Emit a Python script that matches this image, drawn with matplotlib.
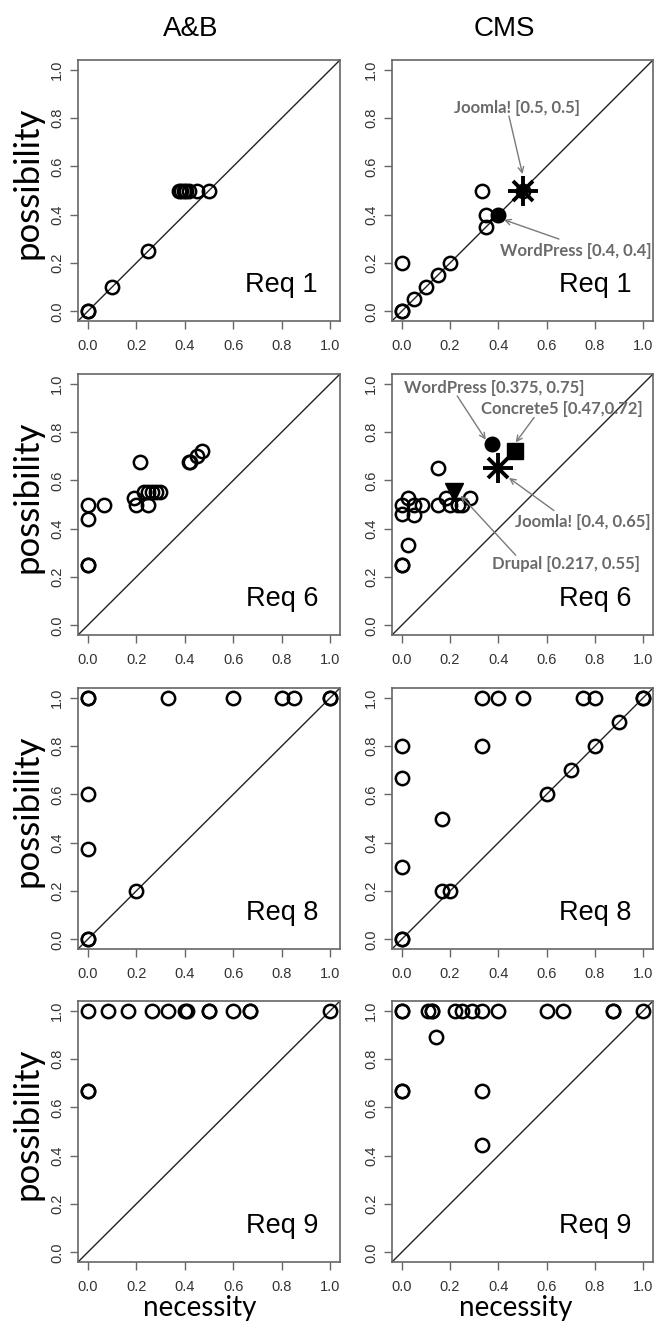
import matplotlib
matplotlib.use('Agg')
import matplotlib.pyplot as plt

# ---------------- data ----------------
col_titles = ['A&B', 'CMS']
req_labels = ['Req 1', 'Req 6', 'Req 8', 'Req 9']
tick_vals = [0.0, 0.2, 0.4, 0.6, 0.8, 1.0]
tick_labels = ['0.0', '0.2', '0.4', '0.6', '0.8', '1.0']

ab_req1_x = [0, 0, 0.1, 0.25, 0.375, 0.385, 0.395, 0.405, 0.417, 0.45, 0.5]
ab_req1_y = [0, 0, 0.1, 0.25, 0.5, 0.5, 0.5, 0.5, 0.5, 0.5, 0.5]

cms_req1_x = [0, 0, 0, 0.05, 0.1, 0.15, 0.2, 0.333, 0.35, 0.35, 0.5]
cms_req1_y = [0, 0, 0.2, 0.05, 0.1, 0.15, 0.2, 0.5, 0.4, 0.35, 0.5]

ab_req6_x = [0, 0, 0, 0, 0.067, 0.19, 0.2, 0.217, 0.25, 0.233, 0.25, 0.267, 0.283, 0.3,
             0.417, 0.42, 0.45, 0.47]
ab_req6_y = [0.25, 0.25, 0.44, 0.5, 0.5, 0.525, 0.5, 0.675, 0.5, 0.55, 0.55, 0.55, 0.55, 0.55,
             0.675, 0.675, 0.7, 0.72]

cms_req6_x = [0, 0, 0.025, 0, 0.025, 0.05, 0, 0.05, 0.083, 0.15, 0.15, 0.183, 0.2, 0.233, 0.25, 0.283]
cms_req6_y = [0.25, 0.25, 0.333, 0.5, 0.525, 0.5, 0.46, 0.455, 0.5, 0.65, 0.5, 0.525, 0.5, 0.5, 0.5, 0.525]

ab_req8_x = [0, 0, 0, 0, 0, 0, 0.2, 0.333, 0.6, 0.8, 0.85, 1, 1]
ab_req8_y = [1, 1, 0.6, 0.375, 0, 0, 0.2, 1, 1, 1, 1, 1, 1]

cms_req8_x = [0, 0, 0, 0, 0, 0.167, 0.167, 0.2, 0.333, 0.333, 0.4, 0.5, 0.6, 0.7, 0.75, 0.8, 0.8, 0.9, 1, 1]
cms_req8_y = [0, 0, 0.3, 0.667, 0.8, 0.5, 0.2, 0.2, 0.8, 1, 1, 1, 0.6, 0.7, 1, 1, 0.8, 0.9, 1, 1]

ab_req9_x = [0, 0.083, 0.167, 0.267, 0.333, 0.4, 0.41, 0.5, 0.5, 0.6, 0.667, 0.667, 1, 0, 0]
ab_req9_y = [1, 1, 1, 1, 1, 1, 1, 1, 1, 1, 1, 1, 1, 0.667, 0.667]

cms_req9_x = [0, 0, 0.111, 0.125, 0.125, 0.222, 0.25, 0.292, 0.333, 0.4, 0.6, 0.667, 0.875, 0.875, 1,
              0.143, 0, 0, 0.333, 0.333]
cms_req9_y = [1, 1, 1, 1, 1, 1, 1, 1, 1, 1, 1, 1, 1, 1, 1,
              0.889, 0.667, 0.667, 0.667, 0.444]

# highlighted CMS systems: (necessity, possibility)
req1_wordpress = (0.4, 0.4)
req1_joomla = (0.5, 0.5)
req6_wordpress = (0.375, 0.75)
req6_concrete5 = (0.47, 0.72)
req6_joomla = (0.4, 0.65)
req6_drupal = (0.217, 0.55)

panels = [
    [(ab_req1_x, ab_req1_y), (cms_req1_x, cms_req1_y)],
    [(ab_req6_x, ab_req6_y), (cms_req6_x, cms_req6_y)],
    [(ab_req8_x, ab_req8_y), (cms_req8_x, cms_req8_y)],
    [(ab_req9_x, ab_req9_y), (cms_req9_x, cms_req9_y)],
]

# ---------------- layout ----------------
W, H = 664, 1323
fig = plt.figure(figsize=(W / 100, H / 100), dpi=100)
fig.patch.set_facecolor('white')

col_left = [78, 392]
col_w = [262, 261]
row_top = [60, 374, 688, 1001]
row_h = 261

SPINE = '#666666'
TICKLBL = '#333333'
ANN = '#6a6a6a'
ARR = '#7a7a7a'


def add_ax(c, r):
    l = col_left[c] / W
    b = 1 - (row_top[r] + row_h) / H
    return fig.add_axes([l, b, col_w[c] / W, row_h / H])


def style(ax):
    ax.set_xlim(-0.04, 1.04)
    ax.set_ylim(-0.04, 1.04)
    ax.set_xticks(tick_vals)
    ax.set_xticklabels(tick_labels, family='Liberation Sans')
    ax.set_yticks(tick_vals)
    ax.set_yticklabels(tick_labels, family='Liberation Sans', rotation=90, va='center')
    ax.tick_params(direction='out', length=6, width=1.0, color=SPINE,
                   labelsize=10.5, labelcolor=TICKLBL)
    ax.tick_params(axis='x', pad=7)
    ax.tick_params(axis='y', pad=4)
    for s in ax.spines.values():
        s.set_color(SPINE)
        s.set_linewidth(1.2)
    ax.axline((0, 0), (1, 1), color='#222222', lw=1.0, zorder=1)


def pts(ax, x, y):
    ax.plot(x, y, 'o', mfc='none', mec='black', ms=9.6, mew=1.8, ls='none', zorder=3)


def asterisk(ax, p):
    ax.plot([p[0]], [p[1]], '+', color='black', ms=21, mew=2.8, zorder=5)
    ax.plot([p[0]], [p[1]], 'x', color='black', ms=15, mew=2.8, zorder=5)


def note(ax, text, tpos, start, end):
    ax.text(tpos[0], tpos[1], text, fontsize=12, family='Lato', weight='bold',
            color=ANN, ha='center', va='center', zorder=6)
    ax.annotate('', xy=end, xytext=start,
                arrowprops=dict(arrowstyle='->', color=ARR, lw=1.0,
                                shrinkA=0, shrinkB=0, mutation_scale=10), zorder=6)


axes = {}
for r in range(4):
    for c in range(2):
        ax = add_ax(c, r)
        style(ax)
        x, y = panels[r][c]
        pts(ax, x, y)
        ax.text(0.8, 0.11, req_labels[r], fontsize=19.5, family='Liberation Sans',
                ha='center', va='center')
        axes[(r, c)] = ax

# CMS Req 1 highlights
ax = axes[(0, 1)]
ax.plot([req1_wordpress[0]], [req1_wordpress[1]], 'o', color='black', ms=10.5, zorder=5)
asterisk(ax, req1_joomla)
note(ax, 'Joomla! [0.5, 0.5]', (0.479, 0.842), (0.444, 0.808), (0.5, 0.568))
note(ax, 'WordPress [0.4, 0.4]', (0.72, 0.251), (0.651, 0.299), (0.423, 0.379))

# CMS Req 6 highlights
ax = axes[(1, 1)]
ax.plot([req6_wordpress[0]], [req6_wordpress[1]], 'o', color='black', ms=10.5, zorder=5)
ax.plot([req6_concrete5[0]], [req6_concrete5[1]], 's', color='black', ms=12, zorder=5)
ax.plot([req6_drupal[0]], [req6_drupal[1]], 'v', color='black', ms=12.5, zorder=5)
asterisk(ax, req6_joomla)
note(ax, 'WordPress [0.375, 0.75]', (0.382, 0.983), (0.23, 0.949), (0.348, 0.768))
note(ax, 'Concrete5 [0.47,0.72]', (0.662, 0.894), (0.548, 0.86), (0.472, 0.757))
note(ax, 'Joomla! [0.4, 0.65]', (0.75, 0.427), (0.63, 0.475), (0.444, 0.61))
note(ax, 'Drupal [0.217, 0.55]', (0.679, 0.255), (0.472, 0.29), (0.244, 0.537))

# column titles
fig.text(191 / W, 1 - 29 / H, col_titles[0], fontsize=20, family='Liberation Sans',
         ha='center', va='center')
fig.text(504 / W, 1 - 29 / H, col_titles[1], fontsize=20, family='Liberation Sans',
         ha='center', va='center')

# y labels
for r in range(4):
    cy = row_top[r] + row_h / 2 - 8
    fig.text(27 / W, 1 - cy / H, 'possibility', rotation=90, fontsize=25, family='Lato',
             ha='center', va='center')

# x labels
fig.text(200 / W, 1 - 1308 / H, 'necessity', fontsize=20, family='Lato', ha='center', va='center')
fig.text(516 / W, 1 - 1308 / H, 'necessity', fontsize=20, family='Lato', ha='center', va='center')

fig.savefig('out.png', dpi=100, facecolor='white')
